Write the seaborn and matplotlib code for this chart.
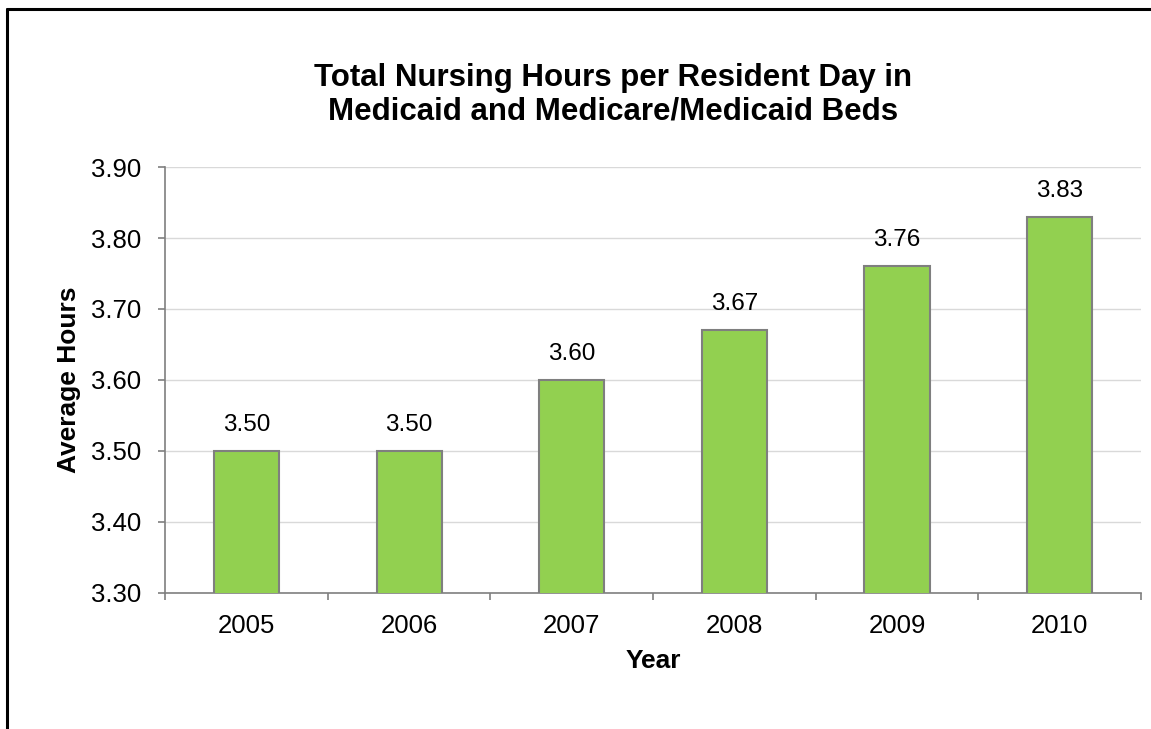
import numpy as np
import pandas as pd
import matplotlib.pyplot as plt
import matplotlib.lines as mlines
import seaborn as sns

years = ["2005", "2006", "2007", "2008", "2009", "2010"]
hours = [3.50, 3.50, 3.60, 3.67, 3.76, 3.83]

df = pd.DataFrame({"Year": years, "Hours": hours})

sns.set_style("white")
plt.rcParams['font.family'] = ['Liberation Sans', 'DejaVu Sans']
plt.rcParams['text.color'] = 'black'
plt.rcParams['xtick.color'] = 'black'
plt.rcParams['ytick.color'] = 'black'
plt.rcParams['axes.labelcolor'] = 'black'

fig = plt.figure(figsize=(11.51, 7.29), dpi=100)
ax = fig.add_axes([0.1434, 0.1866, 0.8479, 0.5843])

sns.barplot(data=df, x="Year", y="Hours", color="#92D050", width=0.4,
            edgecolor="#7f7f7f", linewidth=1.5, saturation=1, ax=ax, zorder=3)

ax.set_ylim(3.30, 3.90)
ax.set_xlim(-0.5, 5.5)
ax.set_yticks(np.arange(3.30, 3.91, 0.10))
ax.set_yticklabels([f"{v:.2f}" for v in np.arange(3.30, 3.91, 0.10)])
ax.yaxis.grid(True, color="#d9d9d9", linewidth=1, zorder=0)
ax.set_axisbelow(True)

# ticks between categories on the x axis
ax.set_xticks(np.arange(-0.5, 6, 1), minor=True)
ax.tick_params(axis='x', which='major', bottom=True, length=0, pad=15, labelsize=18.5)
ax.tick_params(axis='x', which='minor', bottom=True, length=5, width=1.2,
               color="#7f7f7f", direction='out')
ax.tick_params(axis='y', left=True, length=5, width=1.2, color="#7f7f7f",
               direction='out', pad=12, labelsize=18.5)

for s in ['top', 'right']:
    ax.spines[s].set_visible(False)
for s in ['left', 'bottom']:
    ax.spines[s].set_color("#7f7f7f")
    ax.spines[s].set_linewidth(1.2)

for i, v in enumerate(hours):
    ax.text(i, v + 0.021, f"{v:.2f}", ha='center', va='bottom', fontsize=17.5)

ax.set_xlabel("Year", fontsize=19, fontweight='bold', labelpad=8)
ax.set_ylabel("Average Hours", fontsize=19, fontweight='bold', labelpad=7)

fig.text(0.5326, 0.870, "Total Nursing Hours per Resident Day in\nMedicaid and Medicare/Medicaid Beds",
         ha='center', va='center', fontsize=22.5, fontweight='bold', linespacing=1.15)

# border (only top and left visible in the original crop)
fig.add_artist(mlines.Line2D([0.0061, 0.0061], [0, 0.9877], color='black', linewidth=2.2,
                             transform=fig.transFigure))
fig.add_artist(mlines.Line2D([0.0061, 1], [0.9877, 0.9877], color='black', linewidth=2.2,
                             transform=fig.transFigure))

plt.savefig('out.png', dpi=100)
